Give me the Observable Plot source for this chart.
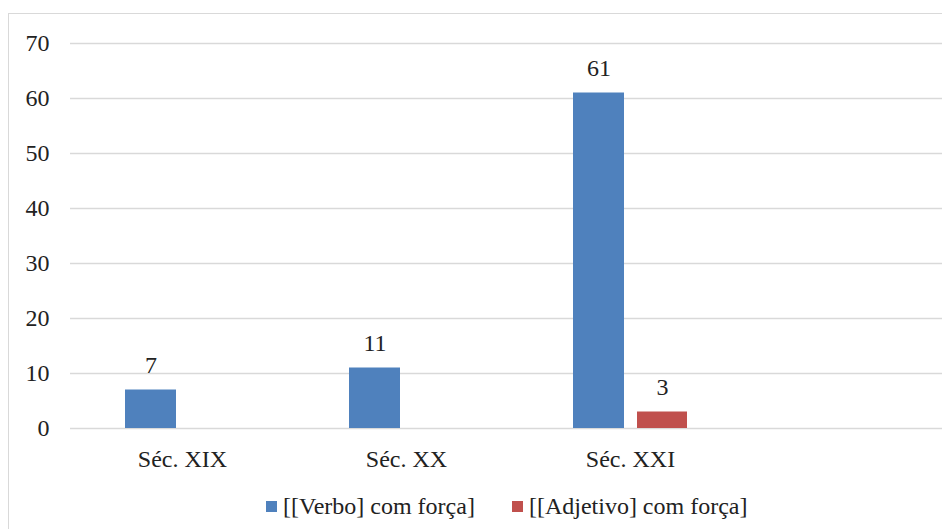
<!DOCTYPE html>
<html><head><meta charset="utf-8">
<script src="https://cdn.jsdelivr.net/npm/d3@7"></script>
<script src="https://cdn.jsdelivr.net/npm/@observablehq/plot@0.6"></script>
<style>
html,body{margin:0;padding:0;background:#fff;overflow:hidden;width:942px;height:529px;position:relative;}
#frame{position:absolute;left:8px;top:13px;width:1000px;height:600px;border:1px solid #d9d9d9;box-sizing:border-box;}
#chart{position:absolute;left:0;top:0;width:980px;}
#chart svg{max-width:none !important;}
#legend{position:absolute;left:266px;top:493px;display:flex;align-items:center;font-family:"Liberation Serif","Times New Roman",serif;font-size:24px;color:#222;white-space:nowrap;}
.item{display:flex;align-items:center;margin-right:37px;}
.sw{width:11px;height:11px;margin-right:6px;}
</style>
</head><body>
<div id="frame"></div>
<div id="chart"></div>
<div id="legend"></div>
<script>
// Categories (the 4th slot is an empty category, as in the original)
const centuries = ["Séc. XIX", "Séc. XX", "Séc. XXI", ""];
const seriesNames = ["[[Verbo] com força]", "[[Adjetivo] com força]"];
const verbo = [7, 11, 61];
const adjetivo = [null, null, 3];
const seriesColors = ["#4f81bd", "#c0504d"];
const yTicks = [0, 10, 20, 30, 40, 50, 60, 70];

const rows = [];
[verbo, adjetivo].forEach((vals, s) => {
  vals.forEach((v, i) => {
    if (v != null) rows.push({century: centuries[i], series: seriesNames[s], value: v});
  });
});
const verboRows = rows.filter(d => d.series === seriesNames[0]);
const adjRows = rows.filter(d => d.series === seriesNames[1]);

const serif = "'Liberation Serif', 'Times New Roman', serif";
const chart = Plot.plot({
  width: 980,
  height: 480,
  marginLeft: 70,
  marginRight: 14,
  marginTop: 43,
  marginBottom: 52,
  style: {fontFamily: serif, fontSize: "24px", color: "#222", background: "transparent", overflow: "visible", maxWidth: "none"},
  x: {domain: centuries, padding: 0},
  y: {domain: [0, 70]},
  color: {domain: seriesNames, range: seriesColors},
  marks: [
    Plot.gridY({ticks: yTicks, stroke: "#d9d9d9", strokeOpacity: 1, strokeWidth: 1.5}),
    Plot.barY(verboRows, {x: "century", y: "value", fill: "series", insetLeft: 55, insetRight: 118}),
    Plot.barY(adjRows, {x: "century", y: "value", fill: "series", insetLeft: 119, insetRight: 55}),
    Plot.text(verboRows, {x: "century", y: "value", text: d => String(d.value), dx: -31.5, dy: -25, fontSize: 24, fontFamily: serif, fill: "#222"}),
    Plot.text(adjRows, {x: "century", y: "value", text: d => String(d.value), dx: 32, dy: -25, fontSize: 24, fontFamily: serif, fill: "#222"}),
    Plot.axisY({ticks: yTicks, tickSize: 0, tickPadding: 21, label: null, fontFamily: serif, fontSize: 24}),
    Plot.axisX({tickSize: 0, tickPadding: 21, label: null, fontFamily: serif, fontSize: 24})
  ]
});
document.getElementById("chart").appendChild(chart);

const legend = document.getElementById("legend");
seriesNames.forEach((name, i) => {
  const item = document.createElement("div");
  item.className = "item";
  const sw = document.createElement("div");
  sw.className = "sw";
  sw.style.background = seriesColors[i];
  const t = document.createElement("span");
  t.textContent = name;
  item.appendChild(sw);
  item.appendChild(t);
  legend.appendChild(item);
});
</script>
</body></html>
